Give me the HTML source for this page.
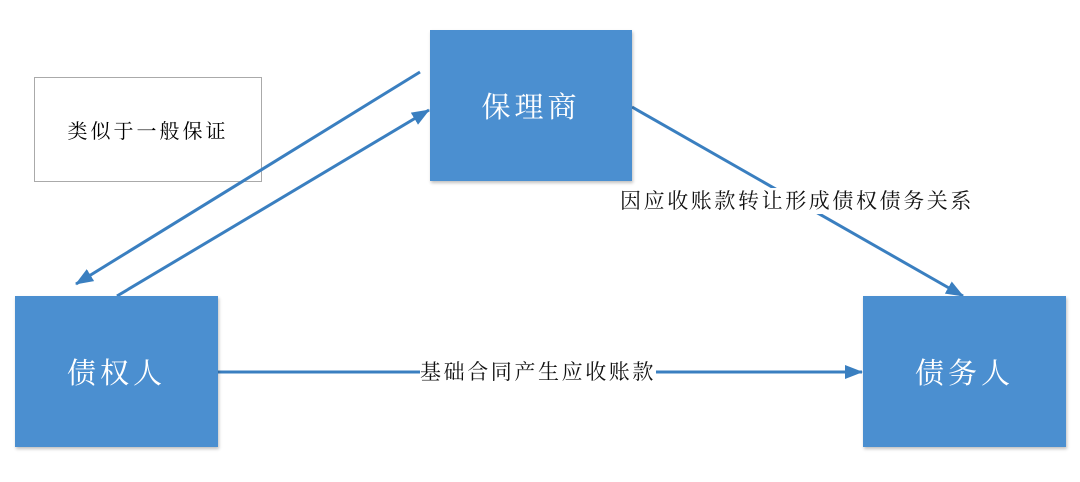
<!DOCTYPE html>
<html><head><meta charset="utf-8"><style>
body{margin:0;width:1080px;height:482px;background:#fff;position:relative;overflow:hidden;font-family:"Liberation Serif","Noto Serif CJK SC",serif;}
.b{position:absolute;background:#4b8fd0;color:#fff;font-size:29px;display:flex;align-items:center;justify-content:center;letter-spacing:4px;box-shadow:1px 2px 3px rgba(0,0,0,0.25);}
.l{position:absolute;background:#fff;font-size:21px;letter-spacing:2.6px;color:#111;white-space:nowrap;line-height:26px;}
</style></head><body>
<div style="position:absolute;left:34px;top:77px;width:226px;height:103px;border:1px solid #aaa;display:flex;align-items:center;justify-content:center;font-size:20px;letter-spacing:3px;">类似于一般保证</div>
<svg width="1080" height="482" style="position:absolute;left:0;top:0">
<defs>
<marker id="m" markerWidth="18" markerHeight="14" refX="17" refY="7" orient="auto" markerUnits="userSpaceOnUse"><path d="M0,0L18,7L0,14z" fill="#3a7fc0"/></marker></defs>
<g stroke="#3a7fc0" stroke-width="3" fill="none">
<line x1="420" y1="72" x2="76" y2="284" marker-end="url(#m)"/>
<line x1="117" y1="296" x2="429" y2="110" marker-end="url(#m)"/>
<line x1="632" y1="107" x2="963" y2="296" marker-end="url(#m)"/>
<line x1="218" y1="372" x2="862" y2="372" marker-end="url(#m)"/>
</g></svg>
<div class="b" style="left:430px;top:30px;width:202px;height:151px;">保理商</div>
<div class="b" style="left:15px;top:296px;width:203px;height:151px;">债权人</div>
<div class="b" style="left:863px;top:296px;width:203px;height:151px;">债务人</div>
<div class="l" style="left:620px;top:188px;">因应收账款转让形成债权债务关系</div>
<div class="l" style="left:420px;top:359px;">基础合同产生应收账款</div>
</body></html>
